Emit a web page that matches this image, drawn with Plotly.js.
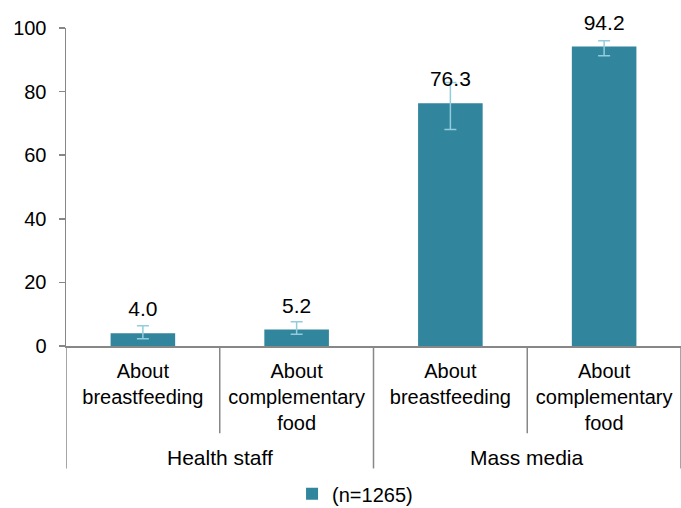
<!DOCTYPE html>
<html>
<head>
<meta charset="utf-8">
<script src="https://cdn.plot.ly/plotly-3.0.1.min.js"></script>
<style>html,body{margin:0;padding:0;background:#fff;}#chart{width:681px;height:508px;}</style>
</head>
<body>
<div id="chart"></div>
<script>
const groups = ["Health staff", "Health staff", "Mass media", "Mass media"];
const categories = ["About<br>breastfeeding", "About<br>complementary<br>food", "About<br>breastfeeding", "About<br>complementary<br>food"];
const values = [4.0, 5.2, 76.3, 94.2];
const errPlus = [2.4, 2.4, 6.6, 1.8];
const errMinus = [1.7, 1.5, 8.2, 2.9];
const seriesName = "(n=1265)";
const yTicks = [0, 20, 40, 60, 80, 100];

const axisColor = "#878787";
const fam = "Liberation Sans, Arial, sans-serif";
const font = {family: fam, size: 20, color: "#000"};
const labelFont = {family: fam, size: 21, color: "#000"};

// unique ids for each (group, category) pair
const ids = groups.map((g, i) => g + " | " + categories[i]);

// group spans (by category index) for outer labels and dividers
const groupNames = [...new Set(groups)];
const groupSpans = groupNames.map(g => {
  const idx = groups.map((v, i) => v === g ? i : -1).filter(i => i >= 0);
  return {name: g, start: Math.min(...idx), end: Math.max(...idx)};
});

const traces = [
  {
    type: "bar", x: ids, y: values, name: seriesName, width: 0.42,
    marker: {color: "#31859C"},
    error_y: {type: "data", symmetric: false, array: errPlus, arrayminus: errMinus,
              color: "#93CDDD", thickness: 1.5, width: 6},
    hoverinfo: "skip"
  },
  {
    type: "scatter", mode: "markers+text", x: ids, y: values,
    text: values.map(v => v.toFixed(1)), textposition: "top center", textfont: labelFont,
    marker: {size: 17, color: "rgba(0,0,0,0)"},
    showlegend: false, cliponaxis: false, hoverinfo: "skip"
  }
];

const shapes = [];
// group dividers (long)
const outer = new Set();
groupSpans.forEach(s => { outer.add(s.start - 0.5); outer.add(s.end + 0.5); });
outer.forEach(b => shapes.push({
  type: "line", xref: "x", yref: "paper", x0: b, x1: b, y0: 0, y1: -0.385,
  line: {color: axisColor, width: 1.5}
}));
// category dividers inside a group (short)
groups.forEach((g, i) => {
  if (i < groups.length - 1 && groups[i + 1] === g) {
    shapes.push({
      type: "line", xref: "x", yref: "paper", x0: i + 0.5, x1: i + 0.5, y0: 0, y1: -0.274,
      line: {color: axisColor, width: 1.5}
    });
  }
});

const annotations = groupSpans.map(s => ({
  xref: "x", yref: "paper", x: (s.start + s.end) / 2, y: -0.352,
  text: s.name, showarrow: false, font: labelFont, xanchor: "center", yanchor: "middle"
}));

const layout = {
  width: 681, height: 508,
  margin: {l: 66, r: 0, t: 28, b: 162},
  paper_bgcolor: "#fff", plot_bgcolor: "#fff",
  font: font, showlegend: true,
  legend: {orientation: "h", x: 0.47, xanchor: "center", yref: "container", y: 0.028, yanchor: "middle", font: font},
  xaxis: {
    type: "category", tickvals: ids, ticktext: categories, range: [-0.5, ids.length - 0.5],
    showline: true, linecolor: axisColor, linewidth: 1.5,
    ticks: "", showgrid: false, zeroline: false, ticklabelstandoff: 6, tickfont: font
  },
  yaxis: {
    range: [0, 100], tickvals: yTicks, ticktext: yTicks.map(String),
    showline: true, linecolor: axisColor, linewidth: 1.5,
    ticks: "outside", ticklen: 6, tickcolor: axisColor, tickwidth: 1.5,
    showgrid: false, zeroline: false, ticklabelstandoff: 8, tickfont: font
  },
  shapes: shapes, annotations: annotations, bargap: 0.58
};

Plotly.newPlot("chart", traces, layout, {displayModeBar: false, staticPlot: true});
</script>
</body>
</html>
